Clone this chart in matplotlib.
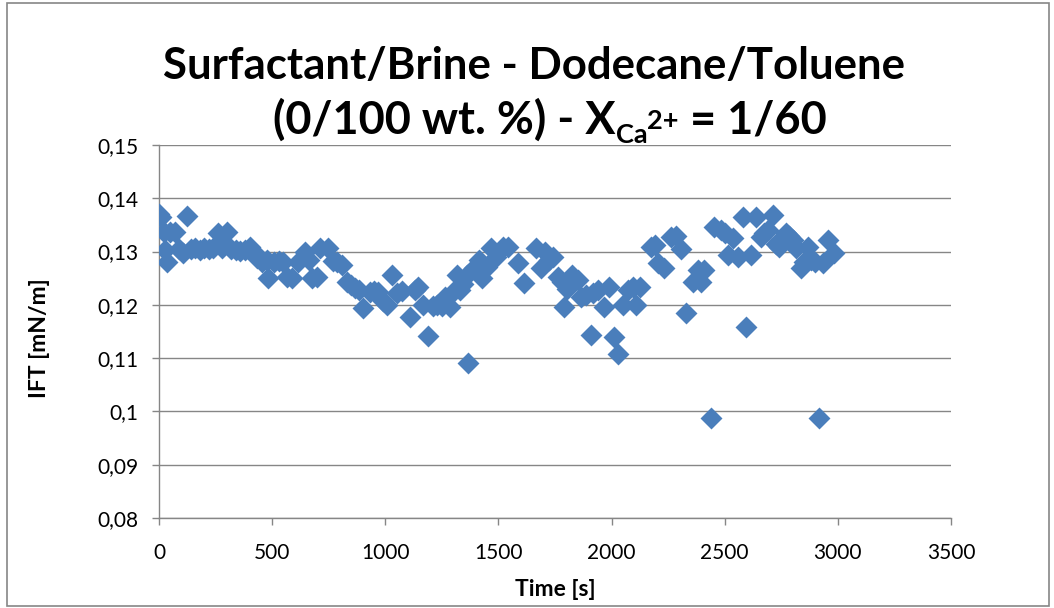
import matplotlib
matplotlib.use('Agg')
import matplotlib.pyplot as plt
from matplotlib.patches import Rectangle
from matplotlib.ticker import FuncFormatter, MultipleLocator

# Dados: tempo [s] e IFT [mN/m]
time_s = [0, 10, 20, 28, 35, 50, 70, 90, 106, 124, 140, 160, 180, 200, 220, 240,
          261, 280, 301, 320, 340, 360, 380, 403, 420, 433, 455, 478, 482, 510,
          530, 549, 566, 588, 615, 646, 662, 677, 700, 712, 748, 770, 788, 810,
          832, 850, 867, 885, 903, 934, 950, 969, 990, 1009, 1031, 1053, 1075,
          1108, 1130, 1146, 1168, 1190, 1212, 1230, 1252, 1265, 1288, 1300,
          1319, 1332, 1345, 1363, 1367, 1390, 1412, 1429, 1451, 1465, 1490,
          1522, 1544, 1588, 1611, 1664, 1686, 1708, 1725, 1743, 1765, 1783,
          1788, 1805, 1827, 1850, 1863, 1885, 1907, 1920, 1942, 1965, 1987,
          2009, 2027, 2049, 2071, 2093, 2106, 2125, 2173, 2190, 2204, 2230,
          2261, 2283, 2305, 2327, 2358, 2380, 2394, 2407, 2438, 2451, 2482,
          2500, 2513, 2535, 2558, 2580, 2593, 2615, 2637, 2659, 2675, 2690,
          2712, 2725, 2739, 2770, 2785, 2801, 2814, 2836, 2850, 2867, 2881,
          2900, 2916, 2934, 2956, 2982]
ift = [0.1370, 0.1365, 0.1337, 0.1303, 0.1280, 0.1337, 0.1337, 0.1305, 0.1297,
       0.1367, 0.1305, 0.1307, 0.1303, 0.1306, 0.1304, 0.1306, 0.1335, 0.1306,
       0.1337, 0.1304, 0.1303, 0.1302, 0.1303, 0.1308, 0.1300, 0.1288, 0.1280,
       0.1285, 0.1250, 0.1280, 0.1282, 0.1280, 0.1252, 0.1250, 0.1280, 0.1300,
       0.1285, 0.1250, 0.1252, 0.1306, 0.1306, 0.1282, 0.1280, 0.1275, 0.1243,
       0.1238, 0.1232, 0.1228, 0.1194, 0.1224, 0.1226, 0.1224, 0.1208, 0.1200,
       0.1256, 0.1222, 0.1226, 0.1177, 0.1228, 0.1234, 0.1200, 0.1142, 0.1197,
       0.1200, 0.1197, 0.1215, 0.1196, 0.1225, 0.1256, 0.1228, 0.1240, 0.1256,
       0.1091, 0.1270, 0.1284, 0.1250, 0.1271, 0.1307, 0.1290, 0.1309, 0.1309,
       0.1278, 0.1241, 0.1307, 0.1270, 0.1300, 0.1285, 0.1290, 0.1252, 0.1243,
       0.1196, 0.1230, 0.1256, 0.1247, 0.1215, 0.1218, 0.1144, 0.1222, 0.1228,
       0.1196, 0.1234, 0.1140, 0.1108, 0.1200, 0.1228, 0.1234, 0.1200, 0.1234,
       0.1309, 0.1312, 0.1278, 0.1270, 0.1328, 0.1330, 0.1305, 0.1185, 0.1242,
       0.1265, 0.1243, 0.1265, 0.0988, 0.1346, 0.1340, 0.1335, 0.1294, 0.1326,
       0.1290, 0.1365, 0.1159, 0.1294, 0.1365, 0.1327, 0.1335, 0.1340, 0.1369,
       0.1315, 0.1309, 0.1335, 0.1330, 0.1322, 0.1307, 0.1270, 0.1280, 0.1309,
       0.1285, 0.1280, 0.0988, 0.1278, 0.1322, 0.1297]

titulo_1 = 'Surfactant/Brine - Dodecane/Toluene'
# segunda linha em pedaços: (texto, tamanho, deslocamento vertical em px)
titulo_2 = [('(0/100 wt. %) - X', 32.5, 0), ('Ca', 19.5, -9), ('2+', 19.5, 5),
            (' = 1/60', 32.5, 0)]

plt.rcParams['font.family'] = ['Lato', 'DejaVu Sans']

cinza = '#868686'
azul = '#4A7EBB'
W, H = 1054, 608

fig = plt.figure(figsize=(W/100, H/100), dpi=100)
ax = fig.add_axes([159/W, 1 - 518/H, (951 - 159)/W, (518 - 145)/H])

# Moldura externa do gráfico
fig.patches.append(Rectangle((7/W, 2/H), 1042/W, 603/H,
                             transform=fig.transFigure, fill=False,
                             edgecolor=cinza, linewidth=1.2))

ax.scatter(time_s, ift, marker='D', s=125, color=azul, linewidths=0, zorder=3)

ax.set_xlim(0, 3500)
ax.set_ylim(0.08, 0.15)
ax.xaxis.set_major_locator(MultipleLocator(500))
ax.yaxis.set_major_locator(MultipleLocator(0.01))
ax.yaxis.set_major_formatter(FuncFormatter(lambda v, p: ('%g' % round(v, 3)).replace('.', ',')))

ax.grid(axis='y', color=cinza, linewidth=1)
ax.set_axisbelow(True)
for s in ['top', 'right']:
    ax.spines[s].set_visible(False)
for s in ['left', 'bottom']:
    ax.spines[s].set_color(cinza)
    ax.spines[s].set_linewidth(1)
ax.tick_params(axis='both', colors=cinza, labelcolor='black', labelsize=15,
               length=5, width=1, direction='out')
ax.tick_params(axis='x', pad=13)
ax.tick_params(axis='y', pad=10)

ax.set_xlabel('Time [s]', fontsize=16.5, fontweight='bold')
ax.set_ylabel('IFT [mN/m]', fontsize=16.5, fontweight='bold')
ax.xaxis.set_label_coords((555 - 159)/(951 - 159), -(590 - 518)/(518 - 145))
ax.yaxis.set_label_coords(-(159 - 40)/(951 - 159), (518 - 338)/(518 - 145))
ax.xaxis.label.set_va('center')
ax.yaxis.label.set_va('center')

fig.text(534/W, 1 - 79/H, titulo_1, ha='center', va='baseline',
         fontsize=31.5, fontweight='bold')

# monta a segunda linha pedaço por pedaço e centraliza
fig.canvas.draw()
r = fig.canvas.get_renderer()
pecas = []
for txt, size, dy in titulo_2:
    t = fig.text(0, 1 - (134 - dy)/H, txt, ha='left', va='baseline',
                 fontsize=size, fontweight='bold')
    pecas.append(t)
larguras = [t.get_window_extent(r).width for t in pecas]
x0 = 550 - sum(larguras)/2
for t, w in zip(pecas, larguras):
    t.set_x(x0/W)
    x0 += w

fig.savefig('out.png', dpi=100)
